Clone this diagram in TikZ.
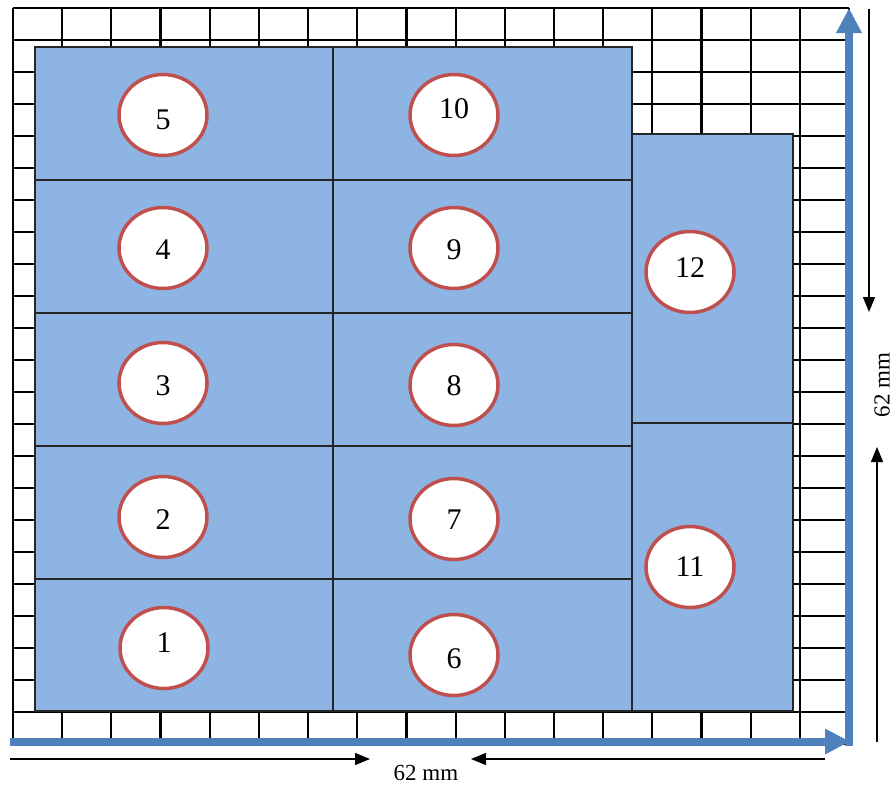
\documentclass[tikz,border=0pt]{standalone}
\usepackage{fontspec}
\setmainfont{Liberation Serif}
\usetikzlibrary{arrows.meta,shapes.geometric}

\definecolor{boxblue}{HTML}{8EB4E3}
\definecolor{axisblue}{HTML}{4F81BD}
\definecolor{discred}{HTML}{C0504D}

\tikzset{
  gridline/.style={line width=2.2pt},
  part/.style={draw=black!85, line width=1.4pt, fill=boxblue},
  disc/.style={ellipse, draw=discred, line width=3.5pt, fill=white,
    minimum width=88pt, minimum height=81pt, inner sep=0pt},
  num/.style={font=\fontsize{30}{32}\selectfont, inner sep=0pt},
  axis/.style={axisblue, line width=8pt, -{Triangle[length=25pt,width=24pt]}},
  dim/.style={line width=1.4pt, -{Triangle[length=15pt,width=12pt]}},
  dimlabel/.style={font=\fontsize{23}{25}\selectfont, inner sep=0pt}
}

\begin{document}
\begin{tikzpicture}[x=1pt,y=-1pt]
    \useasboundingbox (0,0) rectangle (896,785);

    % grid of the sheet
    \foreach \i in {0,...,17}
        \draw[gridline] ({13+49.18*\i},8) -- ({13+49.18*\i},744);
    \foreach \j in {0,...,23}
        \draw[gridline] (13,{8+32*\j}) -- (849.1,{8+32*\j});

    % parts
    \foreach \t/\b in {47/180,180/313,313/446,446/579,579/711} {
        \draw[part] (35,\t) rectangle (333,\b);
        \draw[part] (333,\t) rectangle (632,\b);
    }
    \draw[part] (632,134) rectangle (793,423);
    \draw[part] (632,423) rectangle (793,711);

    % numbers
    \foreach \n/\x/\y/\s in {5/163/115/-5, 4/163/248/-2, 3/163/383/-3, 2/163/517/-3, 1/164/648/5,
                             10/454/115/6, 9/454/248/-2, 8/454/385/-1, 7/454/519/-1, 6/454/655/-4,
                             12/690/272/4, 11/690/567/0} {
        \node[disc] (d\n) at (\x,\y) {};
        \node[num, yshift=\s pt] (t\n) at (d\n) {\n};
    }

    % axes
    \draw[axis] (10,741.5) -- (850,741.5);
    \draw[axis] (849,745.5) -- (849,8);

    % dimensions
    \node[dimlabel] (wlab) at (426,773) {62 mm};
    \coordinate (wl) at (10,759);
    \coordinate (wr) at (825,759);
    \draw[dim] (wl) -- (370,759);
    \draw[dim] (wr) -- (471,759);

    \node[dimlabel, rotate=90] (hlab) at (882,385) {62 mm};
    \coordinate (ht) at (869,9);
    \coordinate (hb) at (877,742);
    \draw[dim] (ht) -- (869,312);
    \draw[dim] (hb) -- (877,447);
\end{tikzpicture}
\end{document}
